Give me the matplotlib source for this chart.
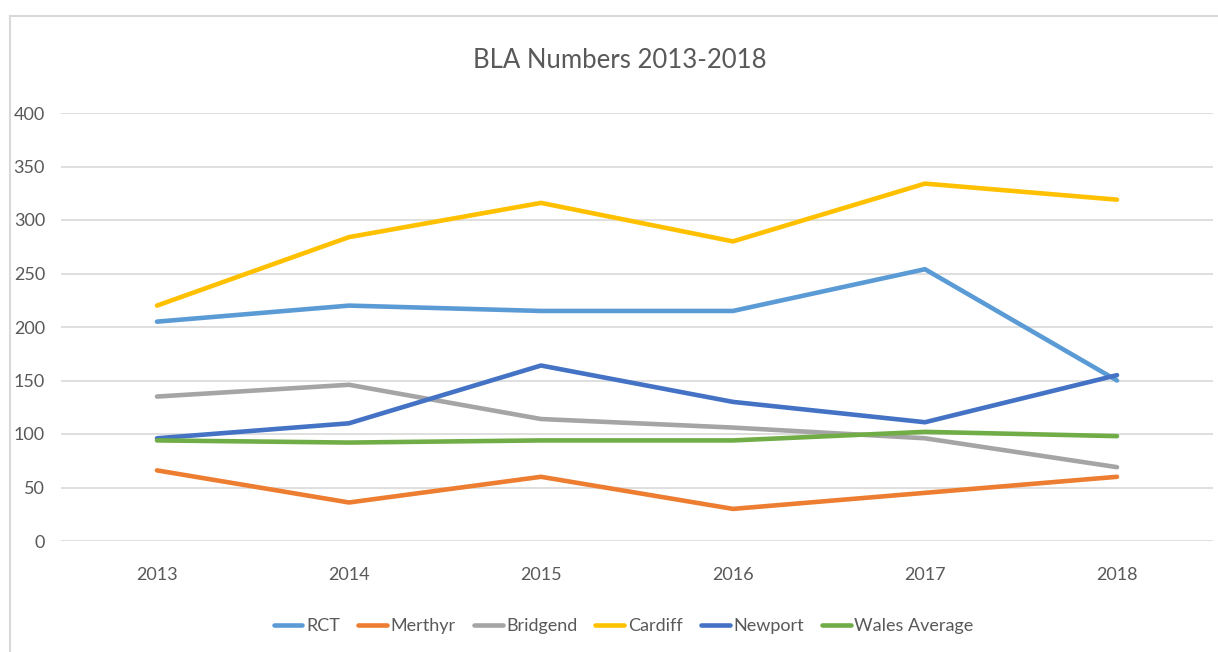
import matplotlib
matplotlib.use("Agg")
import matplotlib.pyplot as plt
from matplotlib.lines import Line2D

years = ["2013", "2014", "2015", "2016", "2017", "2018"]
rct = [205, 220, 215, 215, 254, 150]
merthyr = [66, 36, 60, 30, 45, 60]
bridgend = [135, 146, 114, 106, 96, 69]
cardiff = [220, 284, 316, 280, 334, 319]
newport = [96, 110, 164, 130, 111, 155]
wales_avg = [94, 92, 94, 94, 102, 98]

series = [
    ("RCT", rct, "#5B9BD5"),
    ("Merthyr", merthyr, "#ED7D31"),
    ("Bridgend", bridgend, "#A5A5A5"),
    ("Cardiff", cardiff, "#FFC000"),
    ("Newport", newport, "#4472C4"),
    ("Wales Average", wales_avg, "#70AD47"),
]

plt.rcParams["font.family"] = ["Lato", "DejaVu Sans"]
text_col = "#595959"

fig = plt.figure(figsize=(12.18, 6.52), dpi=100)
ax = fig.add_axes([61 / 1218, 1 - 541 / 652, (1213 - 61) / 1218, (541 - 113) / 652])

x = list(range(len(years)))
for name, vals, col in series:
    ax.plot(x, vals, color=col, lw=3.3, label=name,
            solid_capstyle="round", solid_joinstyle="round", clip_on=False)

ax.set_xlim(-0.5, len(years) - 0.5)
ax.set_ylim(0, 400)
ax.set_yticks(range(0, 401, 50))
ax.set_xticks(x)
ax.set_xticklabels(years)
ax.grid(axis="y", color="#D9D9D9", lw=1.2)
ax.set_axisbelow(True)
for s in ax.spines.values():
    s.set_visible(False)
ax.tick_params(length=0, colors=text_col, labelsize=13)
ax.tick_params(axis="y", pad=11.5)
ax.tick_params(axis="x", pad=19)

fig.text(0.509, 1 - 61 / 652, "BLA Numbers 2013-2018", ha="center", va="center",
         fontsize=18.5, color=text_col)

leg = fig.legend(loc="center", bbox_to_anchor=(0.512, 1 - 626 / 652), ncol=6,
                 frameon=False, fontsize=13, handlelength=1.6, handletextpad=0.2,
                 columnspacing=1.0)
for t in leg.get_texts():
    t.set_color(text_col)

# light chart border
fig.add_artist(Line2D([10 / 1218, 10 / 1218], [0, 1 - 16 / 652], color="#D9D9D9", lw=1.5))
fig.add_artist(Line2D([10 / 1218, 1], [1 - 16 / 652, 1 - 16 / 652], color="#D9D9D9", lw=1.5))

fig.savefig("out.png", dpi=100, facecolor="white")
